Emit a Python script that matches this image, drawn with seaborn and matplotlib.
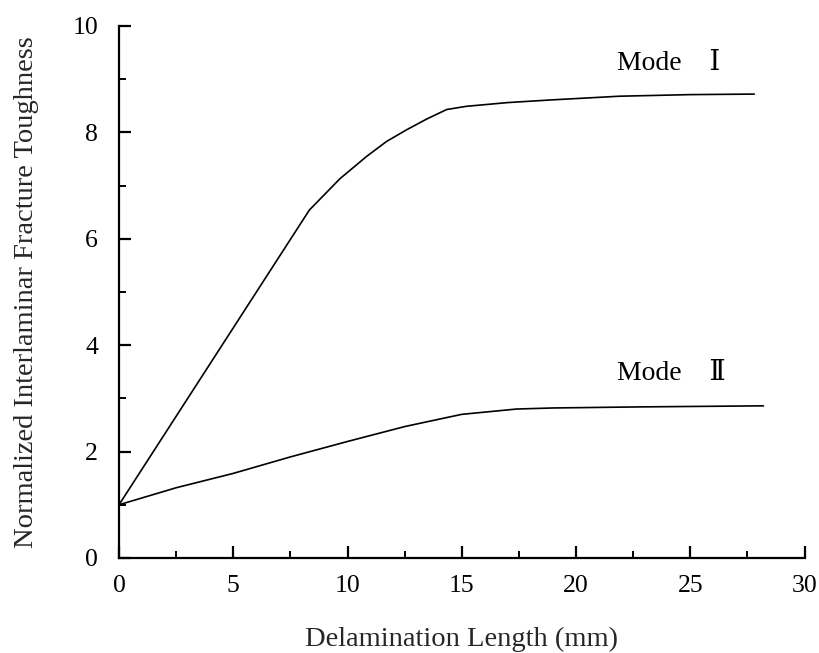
import matplotlib
matplotlib.use("Agg")
import matplotlib.pyplot as plt
from matplotlib.ticker import MultipleLocator
import pandas as pd
import seaborn as sns

# Delamination length (mm) and normalized toughness for each fracture mode
mode1_length = [0, 8.33, 9.67, 10.84, 11.71, 12.59, 13.46, 14.34, 15.2, 17.0, 18.9, 21.9, 25.0, 27.8]
mode1_toughness = [1.0, 6.54, 7.13, 7.55, 7.83, 8.05, 8.25, 8.43, 8.49, 8.56, 8.61, 8.68, 8.71, 8.72]

mode2_length = [0, 2.5, 5.0, 7.5, 10.0, 12.5, 13.8, 15.0, 17.4, 19.0, 22.8, 28.2]
mode2_toughness = [1.0, 1.32, 1.59, 1.90, 2.19, 2.47, 2.59, 2.70, 2.80, 2.82, 2.84, 2.86]

mode_names = ["Mode\u2002\u2002\u2160", "Mode\u2002\u2002\u2161"]
label_x = [21.8, 21.8]
label_y = [9.30, 3.47]

x_label = "Delamination Length (mm)"
y_label = "Normalized Interlaminar Fracture Toughness"

sns.set_style("ticks")
plt.rcParams["font.family"] = ["Liberation Serif", "DejaVu Serif"]

df = pd.concat([
    pd.DataFrame({"length": mode1_length, "toughness": mode1_toughness, "mode": mode_names[0]}),
    pd.DataFrame({"length": mode2_length, "toughness": mode2_toughness, "mode": mode_names[1]}),
], ignore_index=True)

fig = plt.figure(figsize=(8.2, 6.53), dpi=100)
ax = fig.add_axes([0.1451, 0.1455, 0.8361, 0.8147])

sns.lineplot(data=df, x="length", y="toughness", hue="mode", sort=False,
             palette=["black", "black"], linewidth=1.2, legend=False, ax=ax)

for name, tx, ty in zip(mode_names, label_x, label_y):
    ax.text(tx, ty, name, fontsize=20, va="center", ha="left", color="black")

ax.set_xlim(0, 30)
ax.set_ylim(0, 10)
ax.xaxis.set_major_locator(MultipleLocator(5))
ax.xaxis.set_minor_locator(MultipleLocator(2.5))
ax.yaxis.set_major_locator(MultipleLocator(2))
ax.yaxis.set_minor_locator(MultipleLocator(1))

sns.despine(ax=ax)
for side in ("left", "bottom"):
    ax.spines[side].set_linewidth(1.6)
    ax.spines[side].set_color("black")

ax.tick_params(axis="both", which="major", direction="in", length=8.5, width=1.6,
               labelsize=18.5, colors="black")
ax.tick_params(axis="x", which="major", pad=12)
ax.tick_params(axis="y", which="major", pad=15)
ax.tick_params(axis="both", which="minor", direction="in", length=5, width=1.4, colors="black")

ax.set_xlabel(x_label, fontsize=20.5, labelpad=22)
ax.set_ylabel(y_label, fontsize=20.5, labelpad=24)

fig.savefig("out.png", dpi=100, facecolor="white")
